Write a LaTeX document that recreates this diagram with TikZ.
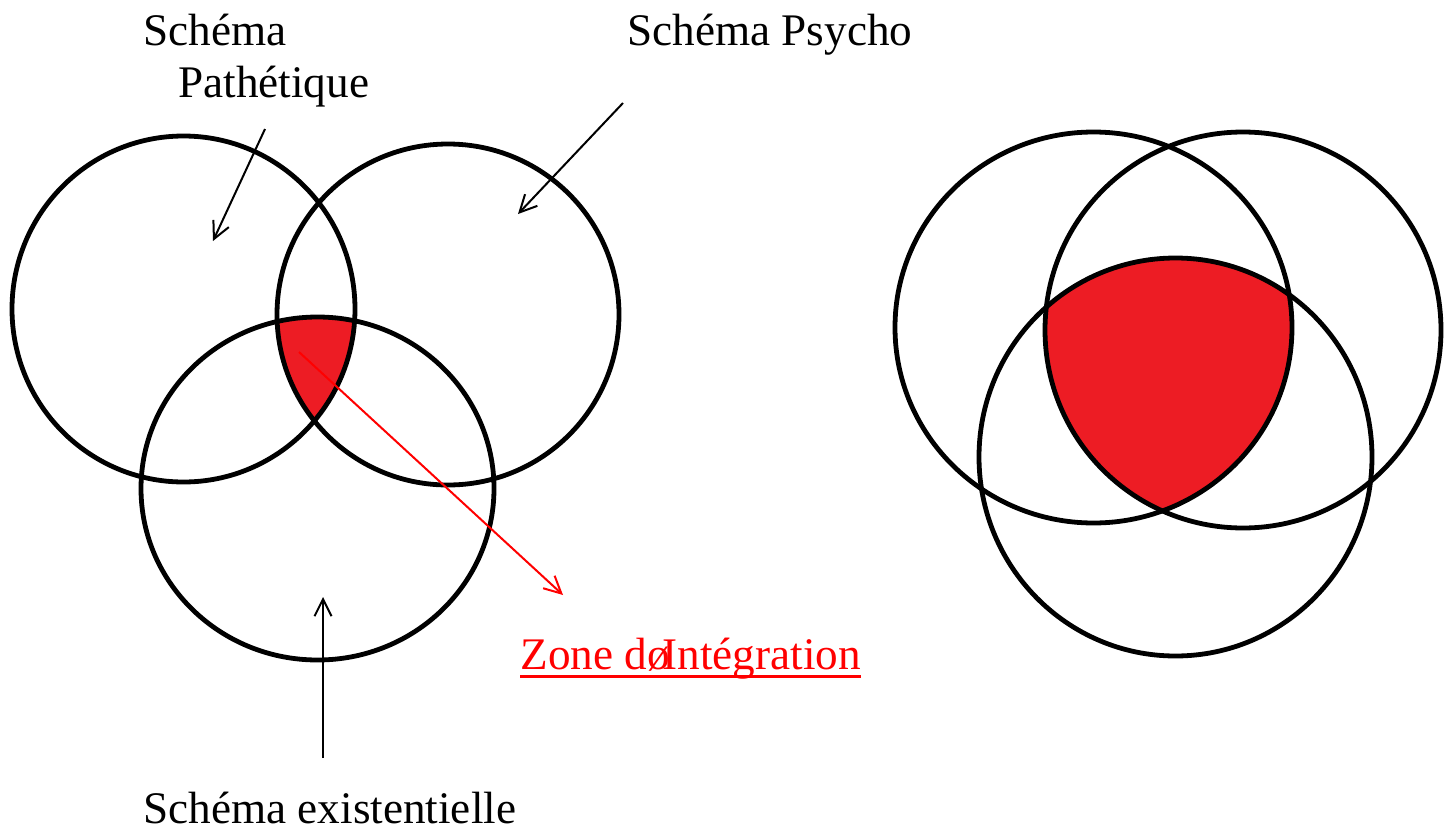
\documentclass[tikz,border=0pt]{standalone}
\usepackage{fontspec}
\setmainfont{Liberation Serif}
\usetikzlibrary{arrows.meta}
\definecolor{zonered}{HTML}{ED1C24}
\begin{document}
\begin{tikzpicture}[x=0.5pt,y=-0.5pt,
  ring/.style={draw=black,line width=2.4pt},
  lbl/.style={anchor=base west,inner sep=0pt,font=\fontsize{22.6pt}{27pt}\selectfont},
  pointer/.style={line width=1pt,-{Straight Barb[length=8.5pt,width=8.5pt,line width=1pt]}},
  redpointer/.style={pointer,draw=red}]
\useasboundingbox[fill=white] (0,0) rectangle (1455,830);
% left diagram fill
\begin{scope}
  \clip (183.5,309) ellipse [x radius=85.75pt,y radius=86.5pt];
  \clip (448,314.5) ellipse [x radius=85.5pt,y radius=85.25pt];
  \fill[zonered] (317.5,488.5) ellipse [x radius=88.25pt,y radius=85.75pt];
\end{scope}
% right diagram fill
\begin{scope}
  \clip (1093.5,327.5) ellipse [x radius=99.25pt,y radius=97.75pt];
  \clip (1243,330) ellipse [x radius=99pt,y radius=99pt];
  \fill[zonered] (1175.5,457) ellipse [x radius=98.25pt,y radius=99.5pt];
\end{scope}
% rings
\draw[ring] (183.5,309) ellipse [x radius=85.75pt,y radius=86.5pt];
\draw[ring] (448,314.5) ellipse [x radius=85.5pt,y radius=85.25pt];
\draw[ring] (317.5,488.5) ellipse [x radius=88.25pt,y radius=85.75pt];
\draw[ring] (1093.5,327.5) ellipse [x radius=99.25pt,y radius=97.75pt];
\draw[ring] (1243,330) ellipse [x radius=99pt,y radius=99pt];
\draw[ring] (1175.5,457) ellipse [x radius=98.25pt,y radius=99.5pt];
% labels
\node[lbl] (sch) at (143,46) {Schéma};
\node[lbl] (path) at (178,97) {Pathétique};
\node[lbl] (psy) at (627,46) {Schéma Psycho};
\node[lbl] (exi) at (143,823) {Schéma existentielle};
\node[lbl,text=red] (zone) at (520,669) {Zone d\makebox[0.34em][l]{ø}Intégration};
\draw[red,line width=1.5pt] ([yshift=-3.5pt]zone.base west) -- ([yshift=-3.5pt]zone.base east);
% arrow coordinates
\coordinate (p1s) at (265,129);
\coordinate (p1e) at (213,241);
\coordinate (p2s) at (623,103);
\coordinate (p2e) at (518,214);
\coordinate (p3s) at (323,758);
\coordinate (p3e) at (323,597);
\coordinate (p4s) at (299,352);
\coordinate (p4e) at (563,595);
\draw[pointer] (p1s) -- (p1e);
\draw[pointer] (p2s) -- (p2e);
\draw[pointer] (p3s) -- (p3e);
\draw[redpointer] (p4s) -- (p4e);
\end{tikzpicture}
\end{document}
